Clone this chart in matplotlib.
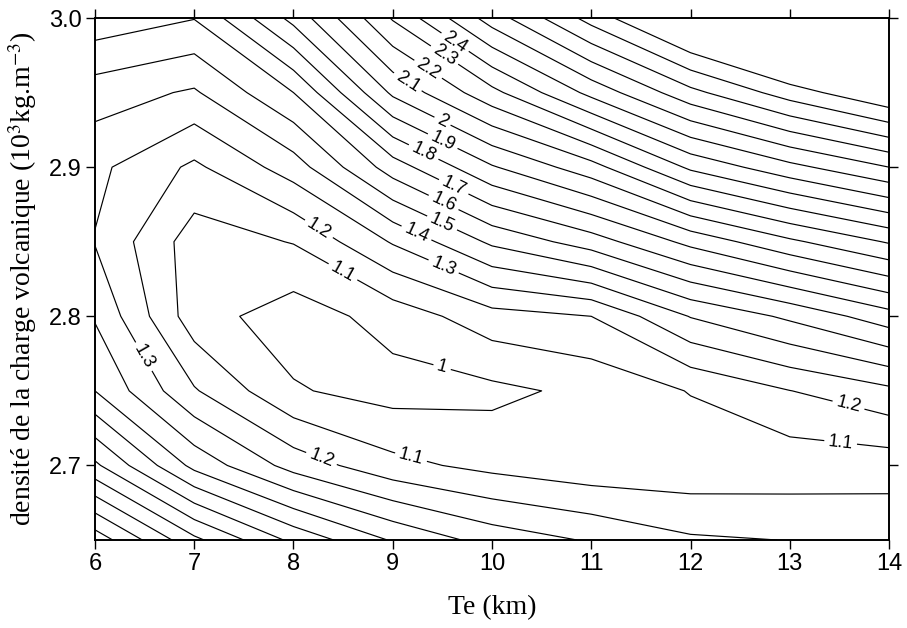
import numpy as np
import matplotlib
matplotlib.use('Agg')
import matplotlib.pyplot as plt

plt.rcParams['font.family'] = ['Liberation Sans', 'DejaVu Sans']
plt.rcParams['mathtext.fontset'] = 'stix'

# grille : epaisseur elastique (km) x densite de la charge
te = [6, 7, 8, 9, 10, 11, 12, 13, 14]
densite = [2.65, 2.70, 2.75, 2.80, 2.85, 2.90, 2.95, 3.00]

# ecart (rms) lu a chaque noeud, une liste par densite
rms_265 = [2.26, 1.925, 1.675, 1.49, 1.36, 1.29, 1.214, 1.198, 1.19]
rms_270 = [1.82, 1.47, 1.26, 1.13, 1.07, 1.03, 1.03, 1.039, 1.045]
rms_275 = [1.50, 1.21, 1.01, 0.96, 0.975, 1.025, 1.105, 1.198, 1.276]
rms_280 = [1.39, 1.044, 0.948, 1.04, 1.16, 1.20, 1.405, 1.52, 1.658]
rms_285 = [1.295, 1.05, 1.105, 1.31, 1.52, 1.65, 1.83, 1.98, 2.11]
rms_290 = [1.325, 1.18, 1.35, 1.65, 1.89, 2.06, 2.32, 2.47, 2.60]
rms_295 = [1.448, 1.387, 1.60, 2.02, 2.27, 2.53, 2.77, 2.95, 3.10]
rms_300 = [1.665, 1.604, 1.933, 2.31, 2.648, 2.94, 3.20, 3.40, 3.60]

niveaux = np.round(np.arange(1.0, 3.01, 0.1), 1)

# positions des etiquettes (Te, densite)
pos_etiquettes = [
    (9.61, 2.982), (9.50, 2.973), (9.35, 2.965), (9.15, 2.957),
    (9.51, 2.932), (9.50, 2.917), (9.31, 2.910), (9.63, 2.889),
    (9.51, 2.876), (9.50, 2.863), (9.24, 2.856), (9.51, 2.833),
    (8.25, 2.858), (8.50, 2.830), (9.51, 2.769), (6.52, 2.774),
    (8.29, 2.706), (9.17, 2.702), (13.59, 2.740), (13.51, 2.714),
]

Z = np.array([rms_265, rms_270, rms_275, rms_280,
              rms_285, rms_290, rms_295, rms_300])

fig = plt.figure(figsize=(9.07, 6.28), dpi=100)
ax = fig.add_axes([0.1047, 0.1401, 0.8755, 0.8312])

cs = ax.contour(te, densite, Z, levels=niveaux, colors='k', linewidths=0.85)
ax.set_xlim(6, 14)
ax.set_ylim(2.65, 3.0)

ax.set_xticks(te)
ax.set_yticks([2.7, 2.8, 2.9, 3.0])
ax.set_yticklabels(['2.7', '2.8', '2.9', '3.0'])
ax.tick_params(direction='out', length=6.5, width=1, top=True, right=True,
               labelsize=17, pad=3)
for s in ax.spines.values():
    s.set_linewidth(1.4)

ax.clabel(cs, fmt=lambda v: f"{v:g}", fontsize=13, inline=True,
          inline_spacing=4, manual=pos_etiquettes)

ax.set_xlabel('Te (km)', fontfamily='Liberation Serif', fontsize=20)
ax.set_ylabel('densité de la charge volcanique (10$^{3}$kg.m$^{-3}$)',
              fontfamily='Liberation Serif', fontsize=20)
ax.xaxis.set_label_coords(0.5, -0.105)
ax.yaxis.set_label_coords(-0.07, 0.5)

fig.savefig('out.png', dpi=100)
